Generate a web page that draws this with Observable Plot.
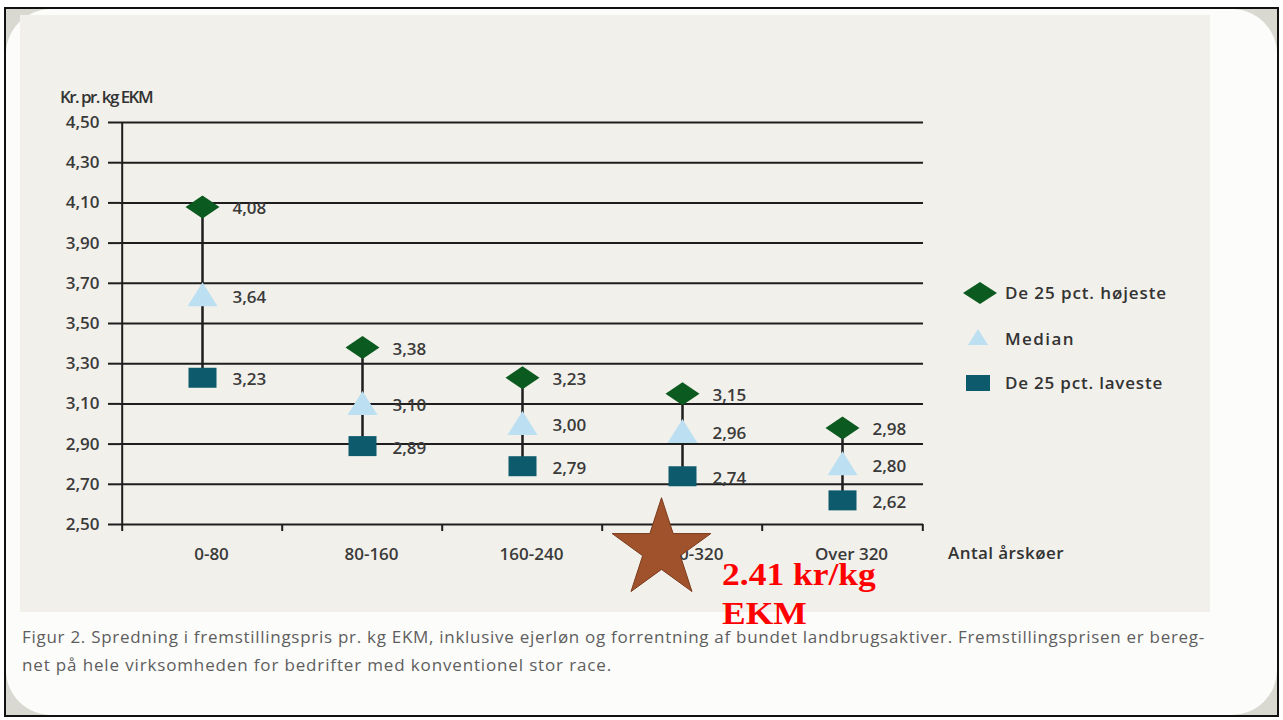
<!DOCTYPE html>
<html>
<head>
<meta charset="utf-8">
<script src="https://cdn.jsdelivr.net/npm/d3@7"></script>
<script src="https://cdn.jsdelivr.net/npm/@observablehq/plot@0.6"></script>
<style>
  html, body { margin: 0; padding: 0; background: #ffffff; }
  #page { position: relative; width: 1283px; height: 720px; overflow: hidden; background: #ffffff; }
  #frame { position: absolute; left: 4px; top: 7px; width: 1275px; height: 710px; border: 2px solid #111; background: #d9d9d2; box-sizing: border-box; overflow: hidden; }
  #inner { position: absolute; left: 0; top: 0; right: 0; bottom: 0; background: #fcfcfb; border-radius: 45px; }
  #panel { position: absolute; left: 20px; top: 15px; width: 1190px; height: 597px; background: #f2f0eb; }
  #chart { position: absolute; left: 20px; top: 15px; }
  .t { position: absolute; font-family: "Open Sans", sans-serif; font-weight: 600; font-size: 17px; color: #333; white-space: nowrap; line-height: 22px; }
  .cap { position: absolute; left: 22px; font-family: "Liberation Sans Narrow", "Open Sans", sans-serif; font-size: 17px; line-height: 22px; color: #5e5e5e; white-space: nowrap; }
  #note { position: absolute; left: 722px; top: 555px; font-family: "Liberation Serif", serif; font-weight: bold; font-size: 35.5px; line-height: 45px; color: #ff0000; transform: scaleY(0.87); transform-origin: 0 0; white-space: nowrap; }
</style>
</head>
<body>
<div id="page">
  <div id="frame"><div id="inner"></div></div>
  <div id="panel"></div>
  <div id="chart"></div>
  <div class="t" id="ytitle" style="left:60px;top:86px">Kr. pr. kg EKM</div>
  <div class="t" id="xtitle" style="left:948px;top:542px">Antal årskøer</div>
  <svg id="legsvg" style="position:absolute;left:955px;top:275px" width="50" height="125"></svg>
  <div class="t" id="leg1" style="left:1005px;top:282px">De 25 pct. højeste</div>
  <div class="t" id="leg2" style="left:1005px;top:328px">Median</div>
  <div class="t" id="leg3" style="left:1005px;top:372px">De 25 pct. laveste</div>
  <div class="cap" id="cap1" style="top:626px">Figur 2. Spredning i fremstillingspris pr. kg EKM, inklusive ejerløn og forrentning af bundet landbrugsaktiver. Fremstillingsprisen er bereg-</div>
  <div class="cap" id="cap2" style="top:654px">net på hele virksomheden for bedrifter med konventionel stor race.</div>
  <div id="note">2.41 kr/kg<br>EKM</div>
</div>
<script>
// ---- data ----
const categories = ["0-80", "80-160", "160-240", "240-320", "Over 320"];
const high = [4.08, 3.38, 3.23, 3.15, 2.98];
const median = [3.64, 3.10, 3.00, 2.96, 2.80];
const low = [3.23, 2.89, 2.79, 2.74, 2.62];
const yTicks = [2.5, 2.7, 2.9, 3.1, 3.3, 3.5, 3.7, 3.9, 4.1, 4.3, 4.5];
const seriesNames = ["De 25 pct. højeste", "Median", "De 25 pct. laveste"];
const starCategory = "240-320";
const starValue = 2.41;

// ---- styles ----
const colors = { high: "#0b5a1f", median: "#bcdff2", low: "#0d5a6c" };
const W = 1190, H = 597, ML = 100, MR = 287, MT = 107, MB = 88;
const bw = (W - ML - MR) / categories.length;
const fmt = d => d.toFixed(2).replace(".", ",");

const symDiamond = { draw(c, size) { const r = Math.sqrt(size / Math.PI); c.moveTo(-1.7 * r, 0); c.lineTo(0, -1.15 * r); c.lineTo(1.7 * r, 0); c.lineTo(0, 1.15 * r); c.closePath(); } };
const symTriangle = { draw(c, size) { const r = Math.sqrt(size / Math.PI); c.moveTo(0, -1.3 * r); c.lineTo(1.5 * r, 1.1 * r); c.lineTo(-1.5 * r, 1.1 * r); c.closePath(); } };
const symSquare = { draw(c, size) { const r = Math.sqrt(size / Math.PI); c.rect(-1.4 * r, -1.0 * r, 2.8 * r, 2.0 * r); } };

const rows = categories.map((c, i) => ({ cat: c, high: high[i], median: median[i], low: low[i] }));

const textStyle = { fontFamily: "Open Sans, sans-serif", fontWeight: 600, fontSize: 17, fill: "#3a3a3a" };

const chart = Plot.plot({
  width: W, height: H,
  marginLeft: ML, marginRight: MR, marginTop: MT, marginBottom: MB,
  style: { background: "transparent", overflow: "visible" },
  x: { type: "band", domain: categories, padding: 0, axis: null },
  y: { domain: [2.5, 4.5], axis: null },
  marks: [
    // gridlines
    Plot.ruleY(yTicks, { stroke: "#1e1e1e", strokeWidth: 2 }),
    // y axis line
    Plot.ruleX([categories[0]], { dx: -bw / 2, y1: 2.5, y2: 4.5, stroke: "#1e1e1e", strokeWidth: 2 }),
    // y axis ticks + labels
    Plot.axisY({ ticks: yTicks, tickSize: 12, tickPadding: 9, tickFormat: fmt, label: null, stroke: "#1e1e1e", strokeWidth: 2, ...textStyle }),
    // x boundary ticks
    Plot.ruleX(categories, { dx: -bw / 2, y1: 2.5, y2: 2.465, stroke: "#1e1e1e", strokeWidth: 2 }),
    Plot.ruleX([categories[categories.length - 1]], { dx: bw / 2, y1: 2.5, y2: 2.465, stroke: "#1e1e1e", strokeWidth: 2 }),
    // x labels
    Plot.axisX({ tickSize: 0, tickPadding: 23, dx: 9, label: null, ...textStyle }),
    // range lines
    Plot.ruleX(rows, { x: "cat", y1: "low", y2: "high", stroke: "#1e1e1e", strokeWidth: 2.5 }),
    // markers
    Plot.dot(rows, { x: "cat", y: "low", symbol: symSquare, r: 10, fill: colors.low, stroke: "none" }),
    Plot.dot(rows, { x: "cat", y: "median", symbol: symTriangle, r: 10, fill: colors.median, stroke: "none" }),
    Plot.dot(rows, { x: "cat", y: "high", symbol: symDiamond, r: 10, fill: colors.high, stroke: "none" }),
    // value labels
    Plot.text(rows, { x: "cat", y: "high", text: d => fmt(d.high), dx: 30, dy: 2, textAnchor: "start", ...textStyle }),
    Plot.text(rows, { x: "cat", y: "median", text: d => fmt(d.median), dx: 30, dy: 2, textAnchor: "start", ...textStyle }),
    Plot.text(rows, { x: "cat", y: "low", text: d => fmt(d.low), dx: 30, dy: 2, textAnchor: "start", ...textStyle }),
    // star annotation
    Plot.dot([{ cat: starCategory, v: starValue }], { x: "cat", y: "v", symbol: "star", r: 31, dx: -21, dy: 7, fill: "#a0522d", stroke: "#7a3b1c", strokeWidth: 1 })
  ]
});
document.getElementById("chart").appendChild(chart);

// legend symbols
const leg = d3.select("#legsvg");
const ly = [18, 63, 108];
leg.append("path").attr("d", `M8,${ly[0]} L25,${ly[0]-11} L42,${ly[0]} L25,${ly[0]+11} Z`).attr("fill", colors.high);
leg.append("path").attr("d", `M23,${ly[1]-9} L33,${ly[1]+7} L13,${ly[1]+7} Z`).attr("fill", colors.median);
leg.append("rect").attr("x", 11).attr("y", ly[2]-8).attr("width", 24).attr("height", 16).attr("fill", colors.low);

// fit text widths to the reference layout
function fit(id, target) {
  const el = document.getElementById(id);
  const n = el.textContent.length;
  const w = el.getBoundingClientRect().width;
  el.style.letterSpacing = ((target - w) / n) + "px";
}
fit("cap1", 1183);
fit("cap2", 590);
fit("ytitle", 92);
fit("xtitle", 116);
fit("leg1", 162);
fit("leg2", 70);
fit("leg3", 158);
</script>
</body>
</html>
